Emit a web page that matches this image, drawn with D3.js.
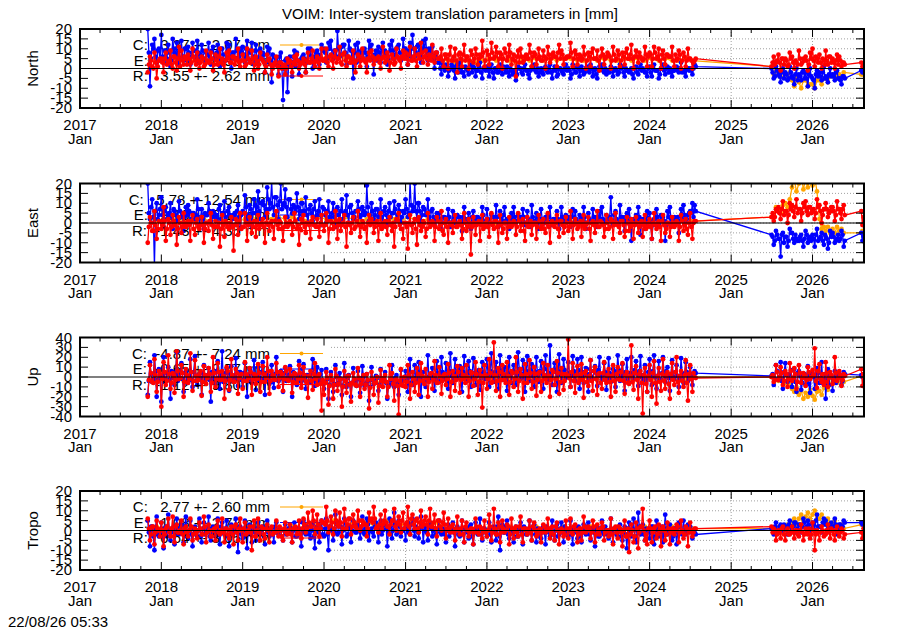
<!DOCTYPE html>
<html><head><meta charset="utf-8">
<script src="https://cdn.jsdelivr.net/npm/d3@7"></script>
<style>
body{margin:0;background:#fff}
text{font-family:"Liberation Sans",Arial,Helvetica,sans-serif;font-size:15px;fill:#000;white-space:pre}
</style>
</head><body>
<svg id="chart" width="900" height="630" xmlns="http://www.w3.org/2000/svg"></svg>
<script>
// ---------------- DATA ----------------
const titleText = "VOIM: Inter-system translation parameters in [mm]";
const stampText = "22/08/26 05:33";
const xYears = [2017,2018,2019,2020,2021,2022,2023,2024,2025,2026];
const xMonthLabel = "Jan";
const yTicks20 = [-20,-15,-10,-5,0,5,10,15,20];
const yTicks40 = [-40,-30,-20,-10,0,10,20,30,40];
const panelLabels = ["North","East","Up","Tropo"];
const seriesNames = ["C","E","R"];
const seriesColors = ["#ffa500","#0000ff","#ff0000"];

// sampling layout: segment 1 Nov 2017 .. Jul 2024, segment 2 Jul 2025 .. May 2026, tail Aug 2026
// "a" arrays sit on days 1/11/21 of each month, "b" arrays on days 6/16/26
const seg1Start = [2017, 10];
const seg2Start = [2025, 6];
const slotDaysA = [1, 11, 21];
const slotDaysB = [6, 16, 26];
const tailDates = ["2026-08-08","2026-08-13","2026-08-18"];

const legendNorth = ["C:   3.27 +- 2.07 mm","E:   4.76 +- 4.93 mm","R:   3.55 +- 2.62 mm"];
const legendEast  = ["C:   5.78 +-12.54 mm","E:   2.10 +- 6.14 mm","R:  -1.43 +- 4.35 mm"];
const legendUp    = ["C:  -4.87 +- 7.24 mm","E:  -0.65 +- 9.57 mm","R:  -1.12 +- 9.80 mm"];
const legendTropo = ["C:   2.77 +- 2.60 mm","E:   1.08 +- 2.72 mm","R:   0.64 +- 3.05 mm"];

// ---- North ----
const northE1 = [
 20,-9,12, 15,3,10,
 17,3,9, 12,1,15, 8,13,2, 14,4,10, 11,2,13, 9,14,3, 12,5,8, 13,2,11, 6,12,1, 10,4,13, 12,0,8, 15,5,10,
 11,3,14, 9,13,2, 12,4,10, 8,-2,11, 10,-7,6, 5,-3,8, -16,4,-12, 6,-4,9, 8,-3,5, 7,-2,10, 10,0,6, 9,2,12,
 10,3,13, 14,5,9, 19,6,11, 12,2,14, 9,-5,12, 13,4,8, 10,1,14, 12,-3,9, 11,3,13, 9,2,12, 14,5,10, 12,4,15,
 10,2,13, 17,6,11, 12,3,14, 15,4,9, 11,0,8, 3,-3,1, 2,-4,0, 1,-5,2, 3,-2,-4, 0,-3,2, 1,-4,-1, 3,-5,0,
 1,-4,2, -5,0,-2, 2,-3,0, 1,-4,-1, -2,-6,1, 0,-3,2, -1,-5,1, 2,-2,-4, 0,-3,1, -2,2,-5, 1,-4,0, -1,-3,2,
 0,-5,2, -2,1,-4, 1,-3,0, -1,2,-4, 0,-5,1, 2,-2,-3, -1,1,-4, 0,-3,2, 1,-4,-1, -2,0,-5, 1,-3,2, 0,-2,-4,
 1,-4,2, -1,-5,0, 2,-3,1, 0,-4,-1, 1,-2,3, -1,-4,0, 0,-3,2
];
const northE1b = [
 8,5,10, 6,9,4,
 6,9,5, 8,4,10, 7,5,9, 6,10,4, 8,6,9, 5,8,7, 9,4,7, 6,9,5, 8,5,10, 7,4,9, 6,8,5, 9,6,8,
 7,10,5, 8,6,9, 5,9,6, 7,3,8, 4,7,2, 3,6,1, 0,5,2, 3,6,1, 4,2,6, 5,3,7, 6,4,8, 7,5,9,
 8,5,10, 7,9,6, 10,7,12, 8,6,10, 5,8,3, 7,9,5, 8,6,10, 5,7,4, 8,10,6, 7,5,9, 9,7,11, 8,6,10,
 7,9,6, 10,8,12, 9,6,10, 8,10,6, 5,7,3, 0,2,-1, 1,-1,2, -1,1,-2, 0,-2,1, -1,1,-2, 0,-1,1, -2,0,-1,
 -1,0,-2, 0,-2,1, -1,1,-2, -2,0,-3, -1,-3,0, -2,0,-1, -3,-1,0, -1,0,-2, -2,0,-1, 0,-2,-1, -1,-3,0, -2,0,-1,
 -1,-3,0, -2,0,-1, -1,-2,1, -2,0,-1, -3,-1,0, -1,0,-2, -2,0,-1, -1,-2,0, -2,0,-1, -1,-3,0, -2,0,-1, -1,-2,0,
 -2,0,-1, -1,-3,0, -1,0,-2, -2,-1,0, -1,0,-2, -2,0,-1, -1,0,1
];
const northR1 = [
 -2,6,1, 8,-5,4,
 5,-2,8, 3,9,0, 6,-1,11, 9,2,5, 7,-1,10, 4,8,0, 6,1,9, 3,8,-1, 7,2,10, 5,-2,8, 9,3,6, 4,10,1,
 7,1,10, 3,9,-1, 6,0,8, 4,-2,7, 5,-3,2, 6,-4,3, 1,-3,5, 4,-2,6, 7,0,3, 5,-2,8, 3,9,1, 6,0,10,
 4,10,1, 7,0,9, 5,11,2, 8,1,6, 3,9,-2, 7,1,10, 4,-2,8, 9,2,5, 6,0,11, 3,8,-1, 7,2,10, 5,0,9,
 8,2,11, 4,10,1, 7,13,3, 9,2,6, 12,3,8, 5,10,1, 7,0,11, 4,10,-2, 8,1,12, 6,0,9, 3,10,2, 7,14,1,
 9,2,13, 5,11,1, 8,0,10, 4,12,2, 7,-4,9, 10,3,6, 5,12,1, 8,2,10, 4,9,0, 11,3,7, 6,1,12, 9,2,5,
 6,13,1, 9,2,7, 4,11,0, 8,1,10, 5,9,-1, 10,2,6, 7,0,11, 4,9,1, 8,2,10, 5,12,0, 9,3,6, 4,11,1,
 8,1,11, 5,10,0, 9,2,7, 6,11,1, 4,9,0, 8,1,10, 5,0,4
];
const northR1b = [
 2,4,0, 3,1,5,
 3,5,2, 4,2,6, 3,5,1, 4,6,2, 5,3,6, 2,4,3, 5,2,4, 3,5,2, 4,6,3, 2,4,5, 3,6,2, 5,3,4,
 4,2,5, 3,5,2, 4,2,5, 3,1,4, 2,0,3, 1,3,0, 2,0,3, 1,3,2, 4,2,3, 2,4,3, 5,3,4, 3,5,4,
 5,3,6, 4,6,3, 5,3,7, 4,6,3, 5,3,4, 6,4,5, 3,5,4, 6,4,5, 3,5,6, 4,6,3, 5,3,6, 4,6,5,
 5,7,4, 6,4,7, 5,8,6, 5,7,4, 6,8,5, 6,4,7, 5,7,4, 6,4,7, 5,7,4, 6,4,7, 5,7,5, 6,8,4,
 7,5,8, 6,8,5, 7,5,8, 6,8,5, 4,6,3, 6,4,7, 5,8,6, 7,5,6, 4,6,5, 7,5,8, 6,8,5, 7,5,6,
 6,8,5, 7,5,6, 5,7,4, 6,8,5, 5,4,6, 7,5,8, 6,4,7, 5,7,4, 6,8,5, 7,5,6, 6,8,5, 5,7,6,
 7,5,8, 6,4,7, 5,7,6, 6,4,7, 5,7,4, 6,4,5, 4,3,5
];
const northC1 = [
 4,3,
 5,4,5,6,4,5,4,5,5,4,5,4,
 5,4,5,4,2,3,1,2,3,4,4,5,
 5,5,6,5,4,5,4,5,5,4,5,5,
 5,5,6,5,5,4,4,3,4,4,3,4,
 5,4,5,4,3,5,4,5,4,5,4,5,
 5,4,4,5,4,5,4,4,5,4,5,4,
 5,4,5,4,4,5,4
];
const northE2 = [0,-5,1, -3,-7,0, -2,-6,1, -4,-8,0, -3,-6,-1, -2,-9,0, -5,-10,-1, -2,-6,1, -4,-7,0, -3,-6,-1, -5,-8,-4];
const northE2b = [-2,-4,-1, -4,-2,-5, -3,-5,-2, -5,-3,-6, -4,-2,-5, -5,-3,-4, -6,-3,-4, -4,-2,-5, -5,-3,-4, -4,-2,-5, -6,-4,-5];
const northR2 = [1,6,3, 7,-1,5, 5,1,8, 6,0,3, 9,2,5, 6,-1,8, 10,1,5, 7,0,4, 9,2,6, 5,0,7, 6,1,3];
const northR2b = [3,2,4, 3,5,2, 4,2,5, 3,4,2, 5,3,4, 4,2,5, 4,6,3, 3,5,2, 4,6,3, 3,4,2, 4,3,2];
const northC2 = [1,-3,-1, -2,-4,-1, -3,-5,-2, -6,-9,-5, -7,-10,-6, -6,-9,-8, -8,-10,-6, -6,-8,-5, -5,-7,-4, -3,-4,-2, -3,-4,-2];
const northE3 = [-1,-2,-1];
const northR3 = [3,1,2];
const northC3 = [-3,-3,-2];

// ---- East ----
const eastE1 = [
 20,2,12, -22,10,4,
 13,-2,8, 4,10,-3, 6,1,11, 3,-4,8, 9,0,5, 2,12,-1, 7,-3,4, 10,1,6, 3,-2,9, 5,11,0, 8,-1,4, 2,9,-3,
 6,14,1, 9,-2,12, 5,16,2, 11,3,18, 7,21,4, 13,2,20, 9,17,3, 12,5,8, 15,2,10, 6,13,0, 9,1,11, 4,12,-1,
 7,0,11, 3,10,-2, 8,1,12, 5,14,0, 9,2,6, 11,3,8, 4,19,1, 10,2,7, 3,12,0, 8,-1,10, 5,11,1, 9,0,6,
 12,3,21, 6,20,2, 10,1,8, 4,12,0, 7,-1,5, 5,-3,3, 2,7,-2, 6,0,4, 3,-4,8, 1,5,-3, 6,-1,3, 2,8,-2,
 7,0,4, 3,9,-2, 6,1,8, 2,-3,5, 8,0,4, 3,7,-1, 6,-2,9, 1,5,-3, 7,0,3, 4,8,-1, 2,6,-3, 8,1,4,
 3,-2,7, 6,0,4, 2,8,-3, 5,1,7, 3,-2,6, 8,0,4, 2,13,-1, 6,0,9, 3,-4,5, 7,-9,2, 4,8,-6, 2,-3,6,
 5,-8,2, 7,-1,4, 3,-9,6, 8,0,3, 2,-5,7, 9,1,4, 6,10,9
];
const eastE1b = [
 5,8,3, 6,2,7,
 4,6,2, 5,3,7, 4,2,6, 5,3,4, 6,2,5, 4,7,3, 2,5,4, 6,3,5, 4,7,2, 5,3,6, 4,2,5, 6,3,4,
 5,8,4, 7,5,9, 8,6,10, 9,7,12, 10,8,13, 9,11,7, 10,8,12, 7,9,6, 8,6,10, 6,4,7, 5,7,3, 6,4,8,
 4,6,3, 5,3,7, 4,6,2, 6,4,8, 5,3,6, 7,4,6, 5,8,4, 6,4,7, 5,3,6, 4,6,3, 5,7,4, 6,3,5,
 7,5,9, 8,6,10, 6,4,7, 5,3,6, 3,1,4, 2,0,3, 1,3,0, 2,0,3, 1,3,2, 2,0,3, 1,3,0, 2,4,1,
 2,0,3, 1,3,0, 2,4,1, 0,2,1, 3,1,2, 1,3,0, 2,0,3, 1,3,2, 2,0,1, 3,1,2, 0,2,1, 3,1,2,
 1,3,0, 2,0,3, 1,3,0, 2,0,3, 1,3,2, 2,0,1, 3,1,4, 2,0,3, 1,3,0, 2,0,-1, 1,3,0, 2,0,1,
 1,-1,2, 3,1,2, 1,-1,3, 2,0,1, 3,1,2, 4,2,5, 5,3,6
];
const eastR1 = [
 -10,3,-4, 6,-8,1,
 -3,8,-9, 2,-6,4, -1,-11,3, -5,5,-2, 1,-9,4, -6,2,-3, 3,-10,0, -4,5,-8, 1,-2,-12, 4,-7,0, -3,3,-14, 2,-6,5,
 -2,5,-9, 3,-5,1, -7,4,-1, 2,-10,5, -4,1,-8, 6,-3,0, -9,3,-2, 1,-6,5, -3,-11,2, 4,-5,0, -8,3,-1, 2,-7,4,
 -4,5,-10, 1,-3,6, -8,2,-1, 4,-12,0, -5,3,-2, 6,-7,1, -3,-10,4, 2,-5,0, -9,5,-2, 1,-6,3, -4,-12,2, 5,-3,-8,
 0,-13,4, -5,2,-11, 3,-4,1, -7,5,-2, 1,-9,3, -3,6,-6, 2,-10,0, -5,4,-2, 1,-8,5, -4,2,-16, 3,-6,0, -9,4,-2,
 2,-7,5, -3,1,-10, 4,-5,0, -8,3,-2, 1,-6,5, -4,2,-9, 3,-1,-6, 0,-8,4, -3,2,-5, 5,-10,1, -2,4,-7, 1,-5,3,
 -4,6,-8, 2,-3,0, -7,4,-1, 3,-9,1, -5,6,-2, 0,-7,4, -3,2,-8, 5,-1,-5, 1,-7,3, -4,2,-8, 3,-5,0, -7,4,-2,
 2,-8,5, -3,1,-9, 4,-5,0, -7,3,-2, 1,-9,4, -4,2,-6, 5,-8,1
];
const eastR1b = [
 -2,0,-4, -1,-3,1,
 -1,1,-3, 0,-2,1, -1,-3,0, -2,0,-1, -1,1,-3, 0,-2,-1, -1,-3,0, 1,-1,-2, -2,0,-3, -1,1,-2, 0,-2,-1, -1,1,-3,
 -2,0,-1, 0,-2,1, -1,-3,0, -2,0,-1, 0,-2,1, -1,1,-3, -2,0,-1, 0,-2,1, -1,-3,0, -2,0,-1, 1,-1,-2, -2,0,-1,
 -1,1,-3, 0,-2,1, -1,-4,0, -2,0,-1, 0,-3,1, -1,-2,0, -2,0,-1, 0,-2,1, -1,-3,0, -2,1,-1, 0,-2,1, -1,-3,0,
 -2,0,-1, 0,-3,1, -1,-2,0, -3,0,-1, 0,-2,1, -1,-4,0, -2,0,-1, 1,-2,0, -1,-3,0, -2,0,-2, 0,-1,1, -1,-3,0,
 -2,0,-1, 1,-2,0, -1,-3,0, -2,0,-1, 0,-2,1, -1,-4,0, -2,1,-1, 0,-2,1, -1,-3,0, -2,0,-1, 0,-3,1, -1,-2,0,
 -2,0,-1, 0,-2,1, -1,-3,0, -3,0,-1, 0,-2,1, -1,-3,0, -2,1,-1, 0,-2,1, -1,-4,0, -2,0,-1, 0,-2,1, -1,-3,0,
 -2,0,-1, 0,-2,1, -1,-3,0, -2,0,-1, 0,-2,1, -1,-3,0, -2,0,1
];
const eastC1 = [
 2,1,
 2,1,3,1,2,0,2,1,2,1,2,1,
 2,3,2,3,2,3,2,3,2,1,2,3,
 2,1,2,3,2,1,2,3,2,1,2,1,
 3,2,1,2,1,0,1,0,1,0,1,0,
 1,0,1,0,1,0,1,0,1,0,1,0,
 1,0,1,0,1,0,1,0,1,0,1,0,
 1,0,1,0,1,0,1
];
const eastE2 = [-6,-11,-4, -8,-17,-5, -7,-12,-3, -5,-10,-8, -9,-6,-12, -4,-10,-7, -6,-12,-3, -8,-5,-11, -7,-13,-4, -5,-10,-8, -9,-4,-12];
const eastE2b = [-7,-9,-6, -8,-6,-10, -7,-9,-5, -8,-6,-9, -7,-9,-8, -6,-8,-9, -8,-6,-9, -7,-9,-6, -8,-10,-7, -7,-9,-6, -8,-6,-9];
const eastR2 = [3,1,7, 8,2,11, 6,0,10, 9,3,12, 7,1,10, 11,4,8, 6,2,12, 9,0,7, 10,3,6, 8,1,11, 7,2,9];
const eastR2b = [5,3,6, 5,7,4, 6,4,7, 6,8,5, 7,5,8, 6,8,5, 7,5,8, 6,4,7, 7,5,8, 6,4,7, 5,7,4];
const eastC2 = [3,4,8, 7,5,9, 10,8,12, 18,22,16, 20,24,17, 22,18,25, 19,23,16, 2,-3,-2, -4,-2,-5, -3,-5,-2, -4,-3,-5];
const eastE3 = [-5,-9,-7];
const eastR3 = [6,-1,3];
const eastC3 = [-5,-4,-5];

// ---- Up ----
const upE1 = [
 -18,15,-5, 22,-20,8,
 -25,20,-3, 10,-22,5, -8,25,0, 14,-15,6, -5,18,-10, 21,-8,3, -18,12,-2, 9,-25,4, -6,16,-12, 26,-5,8, -14,11,-1, 19,-9,5,
 -10,14,-20, 8,-6,17, -13,10,-2, 15,-18,4, -7,12,-11, 20,-4,6, -15,9,-1, 11,-20,3, -8,16,-5, 13,-12,2, -6,18,-9, 10,-3,7,
 -12,8,-22, 5,-15,12, -8,4,-18, 14,-10,2, -20,9,-5, 6,-16,11, -9,3,-24, 10,-7,1, -14,8,-3, 5,-22,-8, 12,-10,2, -18,7,-4,
 6,-15,18, -8,12,-3, 15,-20,5, -10,22,0, 9,-14,16, -5,20,-2, 14,-12,24, -6,18,-1, 11,-15,21, -4,16,-10, 19,-8,4, -13,15,-2,
 18,-10,24, -5,15,-12, 22,-3,10, -14,20,-6, 12,-8,25, -2,17,-15, 21,-4,13, -10,20,-5, 16,-12,22, -3,32,-8, 14,-15,23, -6,18,-1,
 15,-10,21, -4,18,-12, 20,-6,9, -15,17,-2, 11,-9,20, -3,14,-13, 19,-5,8, -10,22,-4, 13,-14,18, -6,20,-2, 16,-9,21, -4,12,-15,
 18,-8,22, -12,16,-3, 20,-5,10, -14,17,-2, 12,-10,19, -6,15,-4, 10,-8,6
];
const upE1b = [
 -4,3,-2, 5,-3,1,
 2,-5,4, -3,6,-1, 3,-4,5, -2,4,-6, 1,-3,5, -4,2,-1, 4,-5,2, -3,5,-2, 6,-1,3, -5,4,-2, 3,-4,1, -2,5,-3,
 4,-3,2, -5,3,-1, 2,-4,5, -2,4,-3, 1,-5,3, -3,2,-1, 4,-4,2, -2,5,-3, 1,-4,3, -3,2,-5, 4,-2,1, -4,3,-6,
 -5,-2,-8, -3,-7,0, -6,-2,-9, -4,-1,-7, -6,-3,-9, -2,-6,0, -7,-4,-10, -3,-6,-1, -8,-4,-2, -6,-9,-3, -5,-1,-7, -4,-8,-2,
 -3,0,-6, -1,-4,2, -2,1,-5, 0,-3,3, 1,-2,4, 2,5,0, 3,6,1, 4,0,7, 2,5,-1, 3,6,0, 4,1,7, 2,5,0,
 3,6,1, 5,2,8, 3,7,0, 4,1,6, 5,2,8, 3,0,6, 4,7,1, 5,2,6, 3,8,1, 4,1,7, 5,2,6, 3,7,1,
 4,1,6, 3,7,0, 5,2,8, 3,0,6, 4,7,1, 2,5,-1, 4,1,6, 3,7,0, 2,5,-2, 4,1,7, 3,6,0, 2,-1,5,
 3,6,0, 1,-3,4, 2,6,-1, 3,0,5, 1,-2,4, 2,5,-1, 3,1,4
];
const upR1 = [
 -20,12,-5, 18,-15,6,
 -30,15,-8, 22,-12,4, -16,26,-2, 12,-20,8, -6,24,-14, 17,-4,3, -19,11,-7, 9,-15,20, -10,14,-3, 6,-22,10, -13,18,-5, 8,-17,2,
 -12,15,-4, 9,-18,3, -7,13,-15, 11,-5,20, -17,6,-2, 14,-10,5, -14,10,-3, 8,-16,4, -6,12,-11, 10,-4,-21, 6,-13,14, -8,3,-34,
 -18,5,-28, 2,-22,8, -14,-2,-30, 6,-16,1, -25,4,-8, 9,-20,-3, -12,3,-32, 5,-18,-6, -26,7,-10, 2,-20,12, 4,-24,-2, -38,8,-9,
 -10,12,-22, 5,-15,9, -18,14,-4, 8,-20,3, -12,16,-6, 10,-17,2, -8,13,-20, 6,-14,11, -16,9,-2, 12,-20,5, -9,15,-18, 7,-31,12,
 -12,18,-6, 35,-14,9, -20,12,-3, 15,-18,6, -10,20,-15, 8,-22,13, -6,17,-12, 10,-19,4, -15,14,-2, 12,-20,7, -8,16,-17, 9,-13,3,
 38,-10,14, -16,11,-3, 13,-21,6, -9,17,-14, 10,-18,4, -12,15,-6, 8,-20,12, -15,10,-3, 14,-17,5, -7,32,-13, 11,-22,6, -37,9,-15,
 12,-20,16, -27,9,-14, 18,-12,5, -22,14,-8, 20,-16,6, -10,17,-24, 12,-15,0
];
const upR1b = [
 -3,4,-6, 2,-5,3,
 -2,5,-4, 3,-6,1, -3,6,-1, 4,-5,2, -2,5,-4, 1,-3,6, -5,2,-1, 3,-6,4, -2,5,-3, 1,-4,6, -3,2,-5, 4,-1,3,
 -4,3,-1, 5,-3,2, -2,4,-5, 3,-1,6, -4,2,-3, 5,-1,3, -2,6,-4, 1,-5,3, -2,4,-1, 2,-6,1, -4,3,-2, 1,-7,-3,
 -6,-1,-9, -3,-8,1, -7,-2,-10, -4,1,-8, -6,-2,-9, -1,-7,2, -8,-3,-11, -2,-6,0, -9,-4,-1, -5,-10,-2, -7,-3,-9, -4,-8,0,
 -5,2,-8, -2,-6,3, -4,1,-7, -1,-5,4, -3,2,-6, 0,-4,3, -2,4,-5, 1,-3,5, -3,2,-6, 0,-4,4, -2,3,-5, 1,-6,2,
 -2,4,-5, 2,-4,5, -3,3,-6, 1,-5,4, -2,5,-4, 2,-6,3, -1,4,-5, 3,-3,5, -4,2,-6, 1,-3,5, -2,4,-5, 3,-4,2,
 -1,5,-4, 2,-6,3, -3,4,-5, 1,-4,6, -2,3,-6, 4,-3,2, -5,1,-4, 3,-2,5, -4,2,-6, 1,-5,4, -3,3,-6, 2,-7,1,
 -3,4,-6, 1,-5,3, -4,2,-7, 3,-3,5, -5,1,-4, 2,-6,3, -2,4,-1
];
const upC1 = [
 -3,-4,
 -2,-3,-1,-4,-2,-3,-1,-2,-3,-2,-1,-3,
 -2,-3,-4,-2,-3,-4,-2,-3,-4,-3,-2,-5,
 -6,-7,-8,-6,-7,-8,-6,-7,-5,-6,-7,-8,
 -6,-5,-4,-3,-4,-3,-2,-3,-2,-1,-2,-3,
 -2,-1,-3,-2,-1,-2,-3,-1,-2,-3,-2,-1,
 -2,-3,-1,-2,-3,-2,-1,-2,-3,-2,-1,-3,
 -2,-3,-1,-2,-3,-2,0
];
const upE2 = [1,-8,12, -3,15,-12, 14,-5,3, -10,8,-15, 6,-13,2, -8,11,-16, 4,-12,9, -6,15,-3, -22,8,2, -14,6,-4, 3,-8,5];
const upE2b = [3,-2,6, 0,-4,5, 2,-3,7, -1,-5,4, 1,-6,3, -2,-7,2, 0,-5,4, -1,-6,3, -3,-8,1, -2,-6,2, 0,-4,3];
const upR2 = [0,-5,12, -3,10,-8, 6,-10,14, -4,9,-12, 12,-6,4, -9,10,-2, 7,29,-11, 13,-5,-8, 15,-10,5, -7,20,-4, 6,-9,3];
const upR2b = [2,-3,5, 0,4,-4, 3,-2,6, -1,3,-5, 4,-1,2, -3,5,0, 2,-4,6, -2,3,-5, 4,-1,2, -3,4,-1, 2,-3,1];
const upC2 = [0,0,-3, -4,-1,-3, -6,-3,-8, -12,-15,-10, -18,-14,-22, -16,-20,-13, -19,-23,-15, -14,-18,-11, -10,-13,-8, -5,-3,-6, -4,-2,-5];
const upE3 = [2,0,3];
const upR3 = [8,-9,3];
const upC3 = [1,2,1];

// ---- Tropo ----
const tropoE1 = [
 5,-8,2, -10,7,-3,
 4,-9,2, 8,-5,0, -7,6,-2, 3,-6,7, -4,5,-8, 2,-3,6, -6,4,-1, 7,-5,2, -3,6,-7, 4,-2,5, -8,3,-1, 6,-11,2,
 -4,5,-9, 3,-6,1, -5,4,-2, 2,-7,5, -3,1,-6, 4,-2,0, -5,3,-1, 2,-6,4, -3,1,-8, 5,-2,0, -4,3,-9, 2,-6,5,
 -3,6,-10, 2,-5,8, -2,4,-7, 6,-3,1, -6,5,-1, 3,-4,7, -2,6,-5, 1,-3,4, -6,5,0, 3,-8,6, -4,9,-2, 5,-3,0,
 -5,4,-2, 6,-3,1, -4,7,-6, 2,-5,4, -3,1,-7, 5,-2,0, -6,3,-1, 4,-8,2, -3,5,-6, 1,-4,3, -7,4,-2, 6,-5,1,
 -3,4,-6, 2,-5,7, -10,3,-1, 5,-4,0, -6,2,-3, 4,-7,1, -2,5,-5, 3,-6,0, -4,2,-7, 1,-3,5, -5,3,-2, 4,-6,1,
 -3,5,-7, 2,-4,0, -6,3,-2, 4,-5,1, -8,2,-3, 5,-2,0, -4,6,-6, 1,-3,3, -5,2,-9, 4,-3,6, -6,9,-2, 3,-5,0,
 -4,2,-7, 5,-3,0, -6,8,-2, 3,-5,1, -7,4,-1, 5,-2,3, 2,-4,-1
];
const tropoE1b = [
 -1,2,-3, 1,-2,0,
 -2,1,-3, 0,-1,2, -2,1,0, -1,2,-3, 0,-2,1, -1,0,-3, 1,-2,0, -3,1,-1, 0,-2,2, -1,1,-3, 0,-2,1, -1,2,-2,
 0,-3,1, -2,0,-1, 1,-2,0, -3,1,-1, 0,-2,2, -1,1,-3, 0,-2,1, -1,0,-3, 1,-2,0, -1,2,-2, 0,-3,1, -1,1,-2,
 1,-2,2, 0,-1,3, -1,2,0, 1,-2,2, 0,3,-1, 2,0,-1, 1,3,0, -1,2,1, 0,-2,3, 1,-1,2, 0,3,-1, 2,0,1,
 1,-1,3, 0,2,-1, 1,3,0, -1,2,1, 0,-2,1, -1,1,-2, 0,-3,1, -1,1,-2, 0,-2,1, -1,2,-3, 0,-1,1, -2,1,-1,
 0,-2,1, -1,2,-3, 0,-1,2, -2,1,-1, 0,-3,1, -1,2,-2, 0,-1,1, -2,1,-3, 0,-1,2, -1,1,-2, 0,-3,1, -1,2,-1,
 0,-2,1, -1,2,-3, 0,-1,2, -2,1,-1, 0,-3,1, -1,2,-2, 0,-1,1, -2,1,-3, 0,-2,1, -1,1,-3, 0,2,-1, -2,1,0,
 -1,2,-3, 0,-1,2, -2,1,-1, 0,-3,1, -1,2,-2, 0,-1,1, -1,0,-2
];
const tropoR1 = [
 6,-5,2, -7,5,0,
 4,-8,1, 6,-3,7, -6,3,-1, 5,-7,2, -3,6,-5, 1,-4,4, -2,7,-6, 3,-3,0, -5,5,-2, 6,-6,1, -4,2,-7, 3,-5,6,
 -6,4,-1, 2,-10,5, -3,6,-5, 1,-4,3, -6,2,-1, 5,-3,0, -5,4,-2, 3,-6,1, -2,5,-4, 6,-1,9, 2,10,-2, 8,-3,5,
 4,12,-1, 7,-2,10, 3,9,-3, 11,1,6, -2,8,2, 10,0,5, 3,-3,9, 6,12,1, -1,8,3, 10,2,-2, 5,11,0, 7,-1,9,
 3,12,-2, 8,1,6, -1,10,3, 7,-2,11, 2,8,-3, 5,0,9, -4,6,-1, 3,-5,7, -2,5,-6, 4,-3,1, -7,6,-1, 2,-4,5,
 -3,8,-5, 11,-2,4, -6,5,-1, 3,-7,6, -4,2,-3, 7,-6,1, -2,5,-5, 4,-3,0, -6,3,-1, 6,-4,2, -5,4,-7, 1,-3,5,
 -4,6,-2, 3,-6,1, -5,7,-1, 2,-4,5, -6,3,-2, 4,-5,0, -3,6,-7, 2,-4,1, -8,5,-3, -11,3,-6, 4,-9,2, 11,-5,-7,
 5,-6,1, -4,3,-8, 2,-5,4, -7,1,-2, 3,-6,5, -4,2,-8, 4,-3,1
];
const tropoR1b = [
 1,-2,2, -1,1,-3,
 0,-2,2, -1,1,-3, 2,-1,0, -2,1,-1, 0,2,-2, -1,0,1, -2,2,-1, 0,-3,1, 2,-1,0, -1,1,-2, 0,-2,2, -1,1,0,
 1,-2,0, -1,2,-3, 0,-1,2, -2,1,0, 1,-2,-1, 0,2,-3, 1,-1,0, -2,1,2, 0,-2,1, 3,1,4, 2,5,1, 3,1,4,
 3,5,2, 4,1,5, 2,4,1, 5,3,6, 2,4,1, 5,2,4, 3,1,5, 4,6,2, 3,1,5, 4,2,3, 5,2,4, 3,5,1,
 4,2,6, 3,5,1, 4,2,5, 3,5,2, 4,1,5, 2,4,3, 1,0,2, -1,1,0, 1,-2,2, 0,-1,1, -1,2,-2, 1,0,-1,
 0,2,-1, 1,-2,2, -1,1,0, 2,-2,1, 0,-1,2, -2,1,0, 1,-1,2, 0,-2,1, -1,2,0, 1,-1,-2, 2,0,-1, 0,-2,1,
 1,-1,2, 0,-2,1, -1,2,0, 1,-1,2, -2,0,1, 2,-1,0, 0,-2,1, -1,2,-1, 0,-3,1, -2,0,-3, 1,-1,2, 0,-2,1,
 1,-1,2, -2,0,1, 0,-2,1, -1,1,0, 2,-1,0, -2,1,-1, 0,-1,1
];
const tropoC1 = [
 1,2,
 1,0,1,2,1,0,1,2,1,0,1,2,
 1,0,1,2,1,0,1,2,1,3,4,3,
 4,5,4,3,4,5,4,3,4,5,4,3,
 4,5,4,3,4,2,1,0,1,2,1,0,
 1,0,1,2,1,0,1,2,1,0,1,2,
 1,0,1,2,1,0,1,2,1,0,1,2,
 1,0,1,2,1,0,1
];
const tropoE2 = [1,-2,4, -1,3,0, 2,-2,5, 0,4,-1, 3,-1,6, 1,5,-2, 4,0,8, 2,-1,6, 5,1,3, 0,6,-2, 3,1,5];
const tropoE2b = [1,2,0, 2,1,3, 1,3,2, 2,4,1, 3,2,4, 2,3,1, 3,5,2, 2,4,3, 3,1,4, 2,3,1, 3,2,4];
const tropoR2 = [2,1,-5, 0,-4,2, -5,1,-2, 2,-4,0, -3,3,-5, 1,-2,-4, 4,-10,0, -5,2,-3, -2,3,-4, 0,-5,2, -3,1,-4];
const tropoR2b = [-1,0,-2, -1,1,-2, 0,-2,-1, -1,0,-2, 0,-1,-2, -1,1,-2, 0,-2,-1, -1,0,-2, 0,-1,1, -2,0,-1, -1,0,-2];
const tropoC2 = [1,0,2, 1,2,0, 2,3,1, 4,6,3, 6,8,5, 7,9,6, 8,10,6, 6,8,4, 4,6,3, 3,5,2, 2,3,1];
const tropoE3 = [4,3,4];
const tropoR3 = [-1,-4,1];
const tropoC3 = [3,4,3];

// ---------------- DRAWING ----------------
const svg = d3.select("#chart");
const plotLeft = 80, plotRight = 864, plotH = 79;
const panelTops = [29, 183.5, 337.5, 491];
const markR = 2.4, lineW = 1.3;
const x = d3.scaleTime()
  .domain([new Date(2017,0,1), new Date(2026,7,20)])
  .range([plotLeft, plotRight]);

function segDates(start, n, perMonth, days){
  const out = [];
  for (let i = 0; i < n; i++){
    const m = start[1] + Math.floor(i / perMonth);
    const day = perMonth === 1 ? 11 : days[i % perMonth];
    out.push(new Date(start[0], m, day));
  }
  return out;
}
function addSeg(pts, vals, start, perMonth, days){
  if (!vals) return;
  const ds = segDates(start, vals.length, perMonth, days);
  vals.forEach((v,i) => pts.push({date: ds[i], v}));
}
function buildSeries(s1, s1b, s2, s2b, s3, perMonth1){
  const pts = [];
  addSeg(pts, s1, seg1Start, perMonth1, slotDaysA);
  addSeg(pts, s1b, seg1Start, 3, slotDaysB);
  addSeg(pts, s2, seg2Start, 3, slotDaysA);
  addSeg(pts, s2b, seg2Start, 3, slotDaysB);
  const td = tailDates.map(s => { const p = s.split("-"); return new Date(+p[0], +p[1]-1, +p[2]); });
  s3.forEach((v,i) => pts.push({date: td[i], v}));
  pts.sort((a,b) => a.date - b.date);
  return pts;
}

const panels = [
  {label:panelLabels[0], ticks:yTicks20, legend:legendNorth,
   series:[buildSeries(northC1,null,northC2,null,northC3,1),
           buildSeries(northE1,northE1b,northE2,northE2b,northE3,3),
           buildSeries(northR1,northR1b,northR2,northR2b,northR3,3)]},
  {label:panelLabels[1], ticks:yTicks20, legend:legendEast,
   series:[buildSeries(eastC1,null,eastC2,null,eastC3,1),
           buildSeries(eastE1,eastE1b,eastE2,eastE2b,eastE3,3),
           buildSeries(eastR1,eastR1b,eastR2,eastR2b,eastR3,3)]},
  {label:panelLabels[2], ticks:yTicks40, legend:legendUp,
   series:[buildSeries(upC1,null,upC2,null,upC3,1),
           buildSeries(upE1,upE1b,upE2,upE2b,upE3,3),
           buildSeries(upR1,upR1b,upR2,upR2b,upR3,3)]},
  {label:panelLabels[3], ticks:yTicks20, legend:legendTropo,
   series:[buildSeries(tropoC1,null,tropoC2,null,tropoC3,1),
           buildSeries(tropoE1,tropoE1b,tropoE2,tropoE2b,tropoE3,3),
           buildSeries(tropoR1,tropoR1b,tropoR2,tropoR2b,tropoR3,3)]}
];

// title and timestamp
svg.append("text").attr("x", 450).attr("y", 19).attr("text-anchor","middle").text(titleText);
svg.append("text").attr("x", 8).attr("y", 627).text(stampText);

const gridStartX = 331;
const majorTicks = xYears.map(yv => new Date(yv,0,1));
const minorTicks = [];
xYears.forEach(yv => [3,6,9].forEach(m => { const d = new Date(yv,m,1); if (d <= x.domain()[1]) minorTicks.push(d); }));

panels.forEach((p, pi) => {
  const top = panelTops[pi], bottom = top + plotH;
  const y = d3.scaleLinear().domain(d3.extent(p.ticks)).range([bottom, top]);
  const g = svg.append("g");
  const clipId = "clip" + pi;
  svg.append("clipPath").attr("id", clipId).append("rect")
    .attr("x", plotLeft).attr("y", top).attr("width", plotRight - plotLeft).attr("height", plotH);

  // grid (behind), only right of the key box
  const grid = g.append("g").attr("stroke","#a0a0a0").attr("stroke-width",1).attr("stroke-dasharray","1,2");
  p.ticks.slice(1,-1).forEach(t => {
    grid.append("line").attr("x1", gridStartX).attr("x2", plotRight).attr("y1", y(t)).attr("y2", y(t));
  });
  majorTicks.forEach(d => {
    const xx = x(d);
    if (xx >= gridStartX && xx < plotRight) grid.append("line").attr("x1", xx).attr("x2", xx).attr("y1", top).attr("y2", bottom);
  });

  const line = d3.line().x(d => x(d.date)).y(d => y(d.v));
  const dataG = g.append("g");
  p.series.forEach((s, si) => {
    const col = seriesColors[si];
    const rowY = top + 16 + si * 15.5;
    // key entry drawn before its data (as gnuplot does)
    dataG.append("text").attr("x", 270).attr("y", rowY + 5).attr("text-anchor","end").text(p.legend[si]);
    dataG.append("line").attr("x1", 280).attr("x2", 323).attr("y1", rowY).attr("y2", rowY)
      .attr("stroke", col).attr("stroke-width", 1);
    dataG.append("circle").attr("cx", 301.5).attr("cy", rowY).attr("r", 2).attr("fill", col);
    const sg = dataG.append("g").attr("clip-path", `url(#${clipId})`);
    sg.append("path").datum(s).attr("d", line).attr("fill","none").attr("stroke", col).attr("stroke-width", lineW);
    sg.selectAll("circle").data(s).join("circle")
      .attr("cx", d => x(d.date)).attr("cy", d => y(d.v)).attr("r", markR).attr("fill", col);
  });

  // zero line
  g.append("line").attr("x1", plotLeft).attr("x2", plotRight).attr("y1", y(0)).attr("y2", y(0))
    .attr("stroke", "#000").attr("stroke-width", 1.2);

  // ticks
  const tk = g.append("g").attr("stroke","#000").attr("stroke-width",1);
  majorTicks.forEach(d => {
    const xx = x(d);
    tk.append("line").attr("x1", xx).attr("x2", xx).attr("y1", bottom).attr("y2", bottom - 8);
    tk.append("line").attr("x1", xx).attr("x2", xx).attr("y1", top).attr("y2", top + 8);
  });
  minorTicks.forEach(d => {
    const xx = x(d);
    tk.append("line").attr("x1", xx).attr("x2", xx).attr("y1", bottom).attr("y2", bottom - 4);
    tk.append("line").attr("x1", xx).attr("x2", xx).attr("y1", top).attr("y2", top + 4);
  });
  p.ticks.forEach(t => {
    tk.append("line").attr("x1", plotLeft).attr("x2", plotLeft + 8).attr("y1", y(t)).attr("y2", y(t));
    tk.append("line").attr("x1", plotRight).attr("x2", plotRight - 8).attr("y1", y(t)).attr("y2", y(t));
  });

  // tick labels
  p.ticks.forEach(t => {
    g.append("text").attr("x", 72).attr("y", y(t) + 5).attr("text-anchor","end").text(t);
  });
  majorTicks.forEach((d, i) => {
    const xx = x(d);
    g.append("text").attr("x", xx).attr("y", bottom + 22).attr("text-anchor","middle").text(xYears[i]);
    g.append("text").attr("x", xx).attr("y", bottom + 35.5).attr("text-anchor","middle").text(xMonthLabel);
  });

  // axis label
  g.append("text").attr("transform", `translate(37.5,${(top+bottom)/2}) rotate(-90)`)
    .attr("text-anchor","middle").text(p.label);

  // border
  g.append("rect").attr("x", plotLeft).attr("y", top).attr("width", plotRight - plotLeft).attr("height", plotH)
    .attr("fill","none").attr("stroke","#000").attr("stroke-width",2);
});
</script>
</body></html>
